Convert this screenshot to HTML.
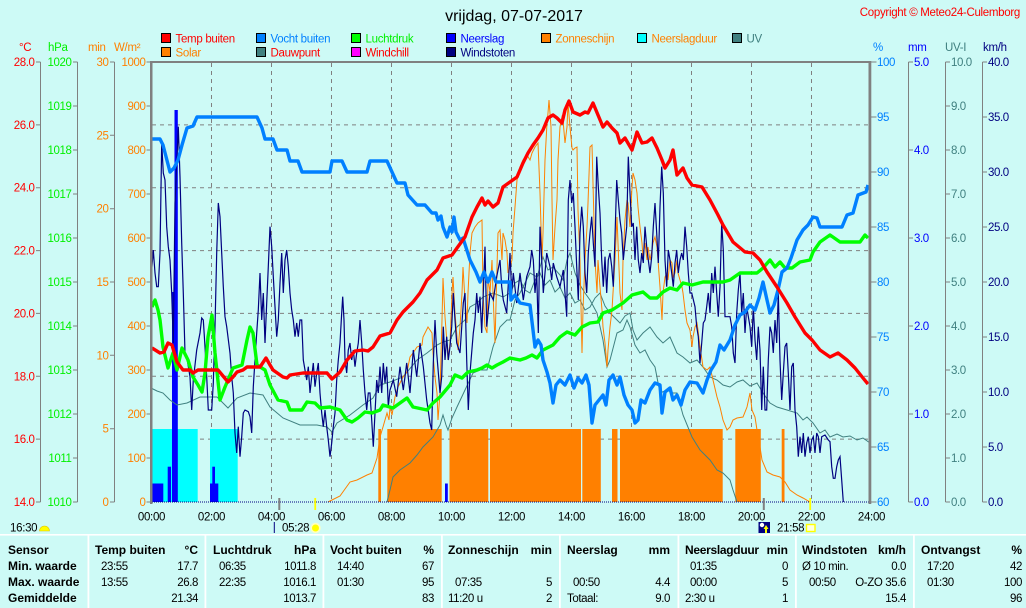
<!DOCTYPE html>
<html><head><meta charset="utf-8"><style>
html,body{margin:0;padding:0;background:#cdfaf6;}
svg{display:block;font-family:"Liberation Sans",sans-serif;}
</style></head><body>
<svg width="1026" height="608" viewBox="0 0 1026 608" xmlns="http://www.w3.org/2000/svg">
<rect width="1026" height="608" fill="#cdfaf6"/>
<!-- title -->
<text x="514" y="21" font-size="16" text-anchor="middle" fill="#000">vrijdag, 07-07-2017</text>
<text x="1020" y="16" font-size="11.5" letter-spacing="-0.3" text-anchor="end" fill="#ff0000">Copyright © Meteo24-Culemborg</text>

<!-- legend -->
<g font-size="11.5" letter-spacing="-0.3">
<rect x="161.5" y="33.5" width="9" height="9" fill="#ff0000" stroke="#000"/><text x="175.5" y="42.5" fill="#ff0000">Temp buiten</text>
<rect x="161.5" y="47.5" width="9" height="9" fill="#ff8000" stroke="#000"/><text x="175.5" y="56.5" fill="#ff8000">Solar</text>
<rect x="256.5" y="33.5" width="9" height="9" fill="#0080ff" stroke="#000"/><text x="270.5" y="42.5" fill="#0080ff">Vocht buiten</text>
<rect x="256.5" y="47.5" width="9" height="9" fill="#408080" stroke="#000"/><text x="270.5" y="56.5" fill="#ff0000">Dauwpunt</text>
<rect x="351.5" y="33.5" width="9" height="9" fill="#00ff00" stroke="#000"/><text x="365.5" y="42.5" fill="#00f000">Luchtdruk</text>
<rect x="351.5" y="47.5" width="9" height="9" fill="#ff00ff" stroke="#000"/><text x="365.5" y="56.5" fill="#ff0000">Windchill</text>
<rect x="446.5" y="33.5" width="9" height="9" fill="#0000ff" stroke="#000"/><text x="460.5" y="42.5" fill="#0000ff">Neerslag</text>
<rect x="446.5" y="47.5" width="9" height="9" fill="#000080" stroke="#000"/><text x="460.5" y="56.5" fill="#000080">Windstoten</text>
<rect x="541.5" y="33.5" width="9" height="9" fill="#ff8000" stroke="#000"/><text x="555.5" y="42.5" fill="#ff8000">Zonneschijn</text>
<rect x="637.5" y="33.5" width="9" height="9" fill="#00ffff" stroke="#000"/><text x="651.5" y="42.5" fill="#ff8000">Neerslagduur</text>
<rect x="732.5" y="33.5" width="9" height="9" fill="#408080" stroke="#000"/><text x="746.5" y="42.5" fill="#408080">UV</text>
</g>

<!-- unit labels -->
<g font-size="11.5" letter-spacing="-0.3">
<text x="19" y="51" fill="#ff0000">°C</text>
<text x="48" y="51" fill="#00f000">hPa</text>
<text x="88" y="51" fill="#ff8000">min</text>
<text x="114" y="51" fill="#ff8000">W/m²</text>
<text x="873" y="51" fill="#0080ff">%</text>
<text x="908" y="51" fill="#0000ff">mm</text>
<text x="945" y="51" fill="#408080">UV-I</text>
<text x="983" y="51" fill="#000080">km/h</text>
</g>

<!-- axis lines -->
<g stroke="#808080" stroke-width="1">
<line x1="40.5" y1="62" x2="40.5" y2="502"/>
<line x1="77.5" y1="62" x2="77.5" y2="502"/>
<line x1="114.5" y1="62" x2="114.5" y2="502"/>
<line x1="908.5" y1="62" x2="908.5" y2="502"/>
<line x1="945.5" y1="62" x2="945.5" y2="502"/>
<line x1="982.5" y1="62" x2="982.5" y2="502"/>
</g>
<!-- ticks -->
<g stroke="#808080" stroke-width="1">
<path d="M36 62H40.5M36 124.9H40.5M36 187.7H40.5M36 250.6H40.5M36 313.4H40.5M36 376.3H40.5M36 439.1H40.5M36 502H40.5"/>
<path d="M73 62H77.5M73 106H77.5M73 150H77.5M73 194H77.5M73 238H77.5M73 282H77.5M73 326H77.5M73 370H77.5M73 414H77.5M73 458H77.5M73 502H77.5"/>
<path d="M110 62H114.5M110 135.3H114.5M110 208.7H114.5M110 282H114.5M110 355.3H114.5M110 428.7H114.5M110 502H114.5"/>
<path d="M146.5 62H151M146.5 106H151M146.5 150H151M146.5 194H151M146.5 238H151M146.5 282H151M146.5 326H151M146.5 370H151M146.5 414H151M146.5 458H151M146.5 502H151"/>
<path d="M870 62H876.5M870 117H876.5M870 172H876.5M870 227H876.5M870 282H876.5M870 337H876.5M870 392H876.5M870 447H876.5M870 502H876.5"/>
<path d="M908.5 62H913M908.5 150H913M908.5 238H913M908.5 326H913M908.5 414H913M908.5 502H913"/>
<path d="M945.5 62H950M945.5 106H950M945.5 150H950M945.5 194H950M945.5 238H950M945.5 282H950M945.5 326H950M945.5 370H950M945.5 414H950M945.5 458H950M945.5 502H950"/>
<path d="M982.5 62H987M982.5 117H987M982.5 172H987M982.5 227H987M982.5 282H987M982.5 337H987M982.5 392H987M982.5 447H987M982.5 502H987"/>
</g>

<!-- tick labels -->
<g font-size="11.5" letter-spacing="-0.4" text-anchor="end" fill="#ff0000">
<text x="34.5" y="66">28.0</text><text x="34.5" y="128.9">26.0</text><text x="34.5" y="191.7">24.0</text><text x="34.5" y="254.6">22.0</text><text x="34.5" y="317.4">20.0</text><text x="34.5" y="380.3">18.0</text><text x="34.5" y="443.1">16.0</text><text x="34.5" y="506">14.0</text>
</g>
<g font-size="11.5" letter-spacing="-0.4" text-anchor="end" fill="#00f000">
<text x="71.5" y="66">1020</text><text x="71.5" y="110">1019</text><text x="71.5" y="154">1018</text><text x="71.5" y="198">1017</text><text x="71.5" y="242">1016</text><text x="71.5" y="286">1015</text><text x="71.5" y="330">1014</text><text x="71.5" y="374">1013</text><text x="71.5" y="418">1012</text><text x="71.5" y="462">1011</text><text x="71.5" y="506">1010</text>
</g>
<g font-size="11.5" letter-spacing="-0.4" text-anchor="end" fill="#ff8000">
<text x="108.5" y="66">30</text><text x="108.5" y="139.3">25</text><text x="108.5" y="212.7">20</text><text x="108.5" y="286">15</text><text x="108.5" y="359.3">10</text><text x="108.5" y="432.7">5</text><text x="108.5" y="506">0</text>
<text x="145.5" y="66">1000</text><text x="145.5" y="110">900</text><text x="145.5" y="154">800</text><text x="145.5" y="198">700</text><text x="145.5" y="242">600</text><text x="145.5" y="286">500</text><text x="145.5" y="330">400</text><text x="145.5" y="374">300</text><text x="145.5" y="418">200</text><text x="145.5" y="462">100</text><text x="145.5" y="506">0</text>
</g>
<g font-size="11.5" letter-spacing="-0.4" fill="#0080ff">
<text x="877" y="66">100</text><text x="877" y="121">95</text><text x="877" y="176">90</text><text x="877" y="231">85</text><text x="877" y="286">80</text><text x="877" y="341">75</text><text x="877" y="396">70</text><text x="877" y="451">65</text><text x="877" y="506">60</text>
</g>
<g font-size="11.5" letter-spacing="-0.4" fill="#0000ff">
<text x="914" y="66">5.0</text><text x="914" y="154">4.0</text><text x="914" y="242">3.0</text><text x="914" y="330">2.0</text><text x="914" y="418">1.0</text><text x="914" y="506">0.0</text>
</g>
<g font-size="11.5" letter-spacing="-0.4" fill="#408080">
<text x="951" y="66">10.0</text><text x="951" y="110">9.0</text><text x="951" y="154">8.0</text><text x="951" y="198">7.0</text><text x="951" y="242">6.0</text><text x="951" y="286">5.0</text><text x="951" y="330">4.0</text><text x="951" y="374">3.0</text><text x="951" y="418">2.0</text><text x="951" y="462">1.0</text><text x="951" y="506">0.0</text>
</g>
<g font-size="11.5" letter-spacing="-0.4" fill="#000080">
<text x="988" y="66">40.0</text><text x="988" y="121">35.0</text><text x="988" y="176">30.0</text><text x="988" y="231">25.0</text><text x="988" y="286">20.0</text><text x="988" y="341">15.0</text><text x="988" y="396">10.0</text><text x="988" y="451">5.0</text><text x="988" y="506">0.0</text>
</g>

<!-- grid -->
<g stroke="#808080" stroke-width="1" stroke-dasharray="4 4">
<path d="M211.5 63V502M271.5 63V502M331.5 63V502M391.5 63V502M451.5 63V502M511.5 63V502M571.5 63V502M631.5 63V502M691.5 63V502M751.5 63V502M811.5 63V502"/>
<path d="M152 124.9H869M152 187.7H869M152 250.6H869M152 313.4H869M152 376.3H869M152 439.1H869"/>
</g>

<!-- neerslagduur -->
<g fill="#00ffff">
<rect x="152" y="429" width="45.7" height="73"/>
<rect x="210" y="429" width="27.7" height="73"/>
</g>
<!-- zonneschijn -->
<g fill="#ff8000">
<rect x="378.3" y="429" width="2.7" height="73"/>
<rect x="387.3" y="429" width="54.4" height="73"/>
<rect x="449.5" y="429" width="38.8" height="73"/>
<rect x="490" y="429" width="91" height="73"/>
<rect x="582.3" y="429" width="18.5" height="73"/>
<rect x="612" y="429" width="5.5" height="73"/>
<rect x="620" y="429" width="102.7" height="73"/>
<rect x="735.3" y="429" width="25.5" height="73"/>
<rect x="781.7" y="429" width="2.8" height="73"/>
</g>
<!-- neerslag -->
<g fill="#0000ff">
<rect x="152" y="483.5" width="11.3" height="18.5"/>
<rect x="167.7" y="466.7" width="3.3" height="35.3"/>
<rect x="172" y="292" width="2.6" height="210"/>
<rect x="174.5" y="110" width="3.3" height="392"/>
<rect x="210" y="483.5" width="8.3" height="18.5"/>
<rect x="212.3" y="466.7" width="2.7" height="35.3"/>
<rect x="445" y="483.5" width="2.8" height="18.5"/>
</g>

<!-- dew point -->
<polyline fill="none" stroke="#408080" stroke-width="1" points="151,388 157,391 163,393 170,400 177,405 187,403 200,397 217,397 228,408 237,398 250,393 263,395 270,407 283,418 300,425 317,425 327,427 332,432 337,423 350,415 363,405 373,398 380,385 390,382 403,377 417,360 427,353 437,345 443,342 450,340 457,327 465,320 470,307 477,303 483,297 493,293 503,297 510,293 515,283 520,280 525,290 530,293 535,280 540,273 545,285 550,280 555,292 560,287 565,298 570,293 575,303 580,300 585,310 590,307 595,298 600,293 605,306 610,313 615,318 620,323 625,316 630,313 633,330 637,340 643,333 650,327 657,337 663,343 670,337 677,353 683,357 690,363 697,360 703,367 710,377 717,380 723,385 730,387 737,382 743,380 750,386 757,383 763,393 770,403 777,407 787,410 797,413 803,420 807,417 813,423 820,433 825,430 830,437 837,434 843,437 850,436 857,440 863,438 870,443"/>
<!-- UV -->
<polyline fill="none" stroke="#408080" stroke-width="1" points="387,502 390,490 393,477 400,470 410,463 417,455 423,447 433,437 440,425 443,415 446,425 448,430 452,418 457,407 465,390 473,373 480,370 487,370 493,347 500,327 507,320 510,320 515,300 520,293 525,283 530,273 537,277 543,257 548,270 553,267 560,275 563,280 567,260 570,253 575,273 580,285 585,293 590,300 597,313 603,340 607,367 610,360 617,333 623,330 627,320 630,327 635,345 640,353 645,350 650,360 655,367 660,393 667,390 673,393 677,393 683,415 692,437 700,450 710,460 717,470 723,473 730,480 733,490 737,502"/>
<!-- solar -->
<polyline fill="none" stroke="#ff8000" stroke-width="1" points="328,502 340,496 350,482 357,480 367,475 372,473 377,458 380,437 383,427 387,413 389,420 390,407 392,415 395,397 398,387 403,377 407,372 410,357 413,353 417,347 422,345 423,337 428,327 432,333 433,353 435,377 437,393 438,420 440,393 442,320 443,278 445,317 447,343 448,360 450,343 452,293 453,277 455,313 457,337 458,350 460,327 462,293 463,267 465,300 467,323 468,293 470,253 472,233 475,227 478,223 482,220 483,293 485,327 487,333 488,277 490,293 492,260 493,293 495,343 497,267 498,233 500,230 502,260 503,233 505,240 507,253 508,273 510,267 512,260 513,233 515,207 517,180 520,167 523,160 527,155 530,160 532,153 535,147 538,143 540,193 542,260 543,233 545,160 547,123 548,113 549,100 551,127 552,200 553,260 555,227 557,200 558,160 560,127 562,117 563,120 565,143 567,127 568,103 570,127 572,148 573,150 575,148 577,147 578,210 580,260 582,353 583,310 585,260 587,227 588,203 590,147 592,145 595,260 597,293 598,260 600,287 602,310 603,327 605,343 607,367 608,350 610,327 612,310 613,293 615,260 617,217 618,243 620,293 622,310 623,260 625,220 627,200 628,203 630,227 632,187 633,173 635,180 637,193 638,207 640,227 642,243 643,257 645,243 647,260 648,247 650,260 652,250 653,243 655,237 657,247 658,260 660,287 662,320 663,293 665,277 667,273 668,280 670,260 672,263 673,277 675,273 677,260 678,273 680,280 682,287 683,293 685,310 687,323 690,330 692,347 693,337 695,327 697,323 698,330 700,347 702,360 703,367 707,370 710,367 713,380 717,397 720,407 723,420 727,430 730,427 733,420 737,418 743,417 747,407 750,393 752,410 755,417 757,430 760,447 762,460 767,472 773,475 780,477 785,482 790,490 797,495 803,498 810,502"/>
<!-- windstoten -->
<polyline fill="none" stroke="#000080" stroke-width="1.2" points="151.7,270 153.3,250 155,273 156.7,286.7 158.3,286.7 160,253 161.7,143 163.3,173 165,180 166.7,226.7 168.3,246.7 170,260 171.7,293 173.3,343 175,203 178.3,126.7 180,176.7 181.7,243 183.3,293 185,353 186.7,356.7 190,376.7 191.7,410 193.3,380 196.7,350 200,333 201.7,318 203.3,320 205,346.7 206.7,376.7 208.3,410 211.7,410 213.3,383 215,326.7 216.7,253 218.3,203 220,216.7 221.7,253 223.3,286.7 225,316.7 226.7,326.7 230,353 231.7,376.7 233.3,393 235,433 236.7,453 238.3,426.7 240,456.7 241.7,436.7 243.3,413 245,410 248.3,411.7 250,416.7 251.7,433 253.3,386.7 256.7,333 258.3,310 260,273 261.7,320 263.3,293 265,343 266.7,303 268.3,266.7 270,226.7 271.7,246.7 273.3,276.7 275,306.7 276.7,336.7 278.3,320 280,283 281.7,253 283.3,293 285,260 286.7,250 288.3,266.7 290,293 291.7,310 293.3,320 295,336.7 296.7,323 298.3,336.7 300,320 301.7,320 303.3,360 306.7,380 308.3,366.7 310,393 311.7,376.7 313.3,363 315,386.7 316.7,373 318.3,363 320,393 321.7,413 323.3,426.7 325,410 326.7,426.7 328.3,440 330,456.7 331.7,443 333.3,426.7 335,413 336.7,380 338.3,360 340,343 341.7,313 342.7,296.7 344,320 345,360 346.7,373 348.3,350 350,343 351.7,360 353.3,350 355,366.7 356.7,353 358.3,343 360,320 361.7,343 363.3,370 365,393 366.7,410 368.3,393 370,393 371.7,420 373.3,446.7 375,413 376.7,380 378.3,393 380,366.7 381.7,393 383.3,363 385,383 386.7,366.7 388.3,406.7 390,390 393.3,380 396.7,396.7 400,366.7 403.3,390 406.7,363 410,393 413.3,350 416.7,376.7 420,343 423.3,366.7 426.7,400 430,423 431.7,430 433.3,363 435,320 436.7,353 440,393 441.7,376.7 443.3,326.7 445,360 446.7,336.7 448.3,360 450,346.7 451.7,326.7 453.3,293 455,320 456.7,343 460,353 463.3,303 465,293 466.7,360 468.3,410 470,373 473.3,333 475,320 476.7,293 478.3,313 480,296.7 481.7,333 483.3,293 485,246.7 486.7,326.7 490,293 493.3,300 496.7,276.7 500,260 501.7,286.7 503.3,300 506.7,313 510,253 511.7,293 513.3,273 516.7,303 520,273 523.3,300 526.7,276.7 530,266.7 531.7,250 533.3,260 535,293 536.7,273 538.3,333 540,226.7 541.7,260 543.3,293 546.7,253 550,266.7 551.7,280 553.3,263 556.7,276.7 560,286.7 563.3,270 565,293 566.7,316.7 568.3,200 570,180 571.7,203 573.3,193 575,226.7 576.7,266.7 578.3,300 580,233 581.7,206.7 583.3,226.7 585,273 586.7,293 588.3,253 590,233 591.7,216.7 593.3,243 595,266.7 596.7,156.7 598.3,186.7 600,213 601.7,260 603.3,286.7 605,256.7 606.7,293 608.3,260 610,253 611.7,266.7 613.3,286.7 615,236.7 616.7,180 618.3,200 620,220 621.7,233 623.3,260 625,243 626.7,226.7 628.3,156.7 630,193 631.7,226.7 633.3,223 635,260 636.7,226.7 638.3,260 640,273 641.7,253 643.3,263 645,226.7 646.7,246.7 648.3,260 650,273 651.7,256.7 653.3,226.7 655,203 656.7,233 658.3,263 660,206.7 661.7,166.7 663.3,193 665,260 666.7,286.7 668.3,250 670,260 671.7,273 673.3,286.7 675,263 676.7,250 678.3,273 680,260 681.7,253 683.3,260 685,226.7 686.7,246.7 688.3,273 690,293 691.7,293 695,306.7 696.7,326.7 698.3,336.7 700,363 701.7,343 703.3,323 705,320 706.7,306.7 708.3,293 710,313 711.7,273 713.3,293 715,266.7 716.7,293 718.3,316.7 720,286.7 721.7,223 723.3,250 725,316.7 730,316.7 731.7,326.7 733.3,353 735,363 736.7,313 738.3,290 740,273 741.7,313 743.3,293 745,333 746.7,306.7 750,326.7 751.7,346.7 753.3,306.7 755,340 756.7,360 758.3,326.7 760,350 761.7,410 763.3,366.7 765,410 766.7,410 768.3,360 770,326.7 771.7,333 773.3,353 775,320 776.7,343 778.3,293 780,360 781.7,400 783.3,373 785,346.7 786.7,343 788.3,373 790,410 791.7,366.7 793.3,363 795,410 796.7,426.7 798.3,456.7 800,436.7 801.7,453 803.3,433 805,456.7 806.7,443 808.3,436.7 810,453 811.7,440 813.3,436.7 815,453 816.7,433 818.3,436.7 820,453 821.7,436.7 825,435 828.3,440 830,441.7 831.7,466.7 833.3,478.3 835,478.3 836.7,466.7 838.3,460 840,456.7 841.7,480 843.3,502"/>
<!-- zero line -->
<line x1="152" y1="502" x2="869" y2="502" stroke="#000080" stroke-width="1" stroke-dasharray="1 1"/>

<!-- pressure -->
<polyline fill="none" stroke="#00ff00" stroke-width="3.4" stroke-linejoin="round" points="152,307 155,300 158,310 160,320 163,347 168,368 173,353 177,370 182,348 188,360 193,377 198,385 202,392 205,373 208,337 212,315 215,353 220,400 225,387 233,368 242,365 247,340 250,327 253,333 257,365 265,370 270,385 278,400 287,402 290,410 302,410 307,402 315,403 320,408 330,407 340,410 347,420 352,422 358,418 365,412 372,413 380,410 383,405 393,408 400,403 407,398 413,407 427,410 433,403 440,397 450,385 455,375 462,378 468,372 477,370 482,368 487,365 492,368 497,365 503,362 510,358 520,360 526,358 532,355 537,358 543,350 553,345 560,337 567,332 575,335 582,327 590,323 598,322 603,313 612,310 623,303 632,295 643,292 650,298 657,298 663,292 670,288 677,290 683,283 692,285 703,282 723,282 730,280 740,273 757,273 763,268 770,260 775,267 780,262 785,268 792,268 800,262 810,260 813,252 820,242 830,235 840,242 860,242 865,235 868,238"/>
<!-- humidity -->
<polyline fill="none" stroke="#0080ff" stroke-width="3.4" stroke-linejoin="round" points="152,139 160,139 163,145 170,172 174,168 178,160 182,145 187,128 193,126 197,117 257,117 262,128 265,139 273,139 277,150 287,150 290,161 298,161 302,172 330,172 332,161 342,161 347,172 367,172 370,161 387,161 392,172 397,183 405,183 408,195 417,205 425,205 432,213 436,213 438,220 441,216 443,227 447,237 450,227 452,232 454,217 456,232 460,240 463,238 470,260 476,272 480,282 484,272 488,282 492,272 496,282 510,282 511,300 515,295 520,303 530,305 533,330 535,347 538,340 541,345 543,360 547,372 550,383 553,403 556,385 560,380 565,385 570,375 574,388 578,378 582,383 586,375 589,385 592,423 595,405 599,400 603,395 606,405 609,380 613,375 617,385 620,377 624,395 628,405 632,410 635,423 638,420 641,400 645,403 650,390 655,383 660,385 662,413 665,392 670,388 673,400 677,395 681,405 685,390 690,382 697,383 703,393 707,380 711,370 716,362 720,345 724,350 730,340 735,325 740,315 745,312 750,305 755,310 759,298 763,282 767,300 770,313 774,305 778,290 782,272 787,268 791,258 797,240 803,230 808,225 813,217 817,218 820,227 842,227 847,215 853,213 858,195 866,192 868,185"/>
<!-- temperature -->
<polyline fill="none" stroke="#ff0000" stroke-width="3.4" stroke-linejoin="round" points="152,348 160,353 164,352 168,343 172,345 177,362 183,370 190,370 193,373 198,370 218,370 228,382 233,377 237,372 243,370 247,367 260,367 266,358 270,365 273,370 283,377 287,378 290,375 303,373 327,373 332,379 340,372 347,360 355,351 363,350 368,351 373,347 380,336 390,333 397,320 403,312 413,302 420,293 427,280 437,270 443,258 452,255 457,248 465,237 472,217 477,207 482,198 485,205 488,201 493,207 498,203 503,187 510,182 517,177 523,163 528,153 533,145 538,138 543,130 548,118 553,115 557,118 562,123 565,110 569,101 573,112 580,115 585,112 588,113 593,103 598,115 603,127 607,122 612,128 617,133 620,143 625,138 632,150 637,132 642,143 647,142 652,138 657,148 662,160 665,168 670,160 673,150 677,175 683,168 687,178 692,185 702,187 710,200 718,215 723,225 733,242 745,252 753,253 760,260 767,272 777,287 787,303 795,317 805,333 812,340 820,350 830,357 838,353 847,360 855,368 863,378 868,384"/>

<!-- plot border -->
<g fill="#808080">
<rect x="150" y="61" width="721" height="2"/>
<rect x="150" y="61" width="2.5" height="443"/>
<rect x="868.5" y="61" width="2.8" height="443"/>
</g>
<!-- markers on x axis -->
<rect x="278.3" y="498" width="2" height="12" fill="#808080"/>
<rect x="314.3" y="498" width="1.8" height="12" fill="#ffff00"/>
<rect x="762.8" y="498" width="2" height="12" fill="#808080"/>
<rect x="809.3" y="498" width="1.8" height="12" fill="#ffff00"/>

<!-- time labels -->
<g font-size="11.5" letter-spacing="-0.3" text-anchor="middle" fill="#000">
<text x="151.5" y="520.5">00:00</text><text x="211.5" y="520.5">02:00</text><text x="271.5" y="520.5">04:00</text><text x="331.5" y="520.5">06:00</text><text x="391.5" y="520.5">08:00</text><text x="451.5" y="520.5">10:00</text><text x="511.5" y="520.5">12:00</text><text x="571.5" y="520.5">14:00</text><text x="631.5" y="520.5">16:00</text><text x="691.5" y="520.5">18:00</text><text x="751.5" y="520.5">20:00</text><text x="811.5" y="520.5">22:00</text><text x="871.5" y="520.5">24:00</text>
</g>
<g font-size="11.5" letter-spacing="-0.3" fill="#000">
<text x="10" y="531.5">16:30</text>
<text x="282" y="531.5">05:28</text>
<text x="777" y="531.5">21:58</text>
</g>
<path d="M39.5,531 A5,5 0 0 1 49.5,531 Z" fill="#ffff00" stroke="#e0c000" stroke-width="0.6"/>
<line x1="274.3" y1="522" x2="274.3" y2="533" stroke="#000080" stroke-width="1"/>
<circle cx="315.5" cy="528" r="5.2" fill="#ffffc0"/>
<circle cx="315.5" cy="528" r="3.5" fill="#ffff00"/>
<rect x="758.5" y="522" width="11.5" height="11" fill="#000080"/>
<circle cx="762" cy="525" r="2.2" fill="#ffffff"/>
<path d="M766,525 L768.5,529 H767 V533 H765 V529 H763.5 Z" fill="#ffff00"/>
<rect x="806.5" y="524.5" width="8.5" height="7" fill="#ffffe0" stroke="#ffff00" stroke-width="1.4"/>

<!-- table -->
<g fill="#ffffff">
<rect x="0" y="534" width="1026" height="1.6"/>
<rect x="87.5" y="535" width="1.8" height="73"/>
<rect x="204.5" y="535" width="1.8" height="73"/>
<rect x="322.5" y="535" width="1.8" height="73"/>
<rect x="441" y="535" width="1.8" height="73"/>
<rect x="559" y="535" width="1.8" height="73"/>
<rect x="677.5" y="535" width="1.8" height="73"/>
<rect x="795" y="535" width="1.8" height="73"/>
<rect x="913" y="535" width="1.8" height="73"/>
</g>
<g font-size="12" font-weight="bold" fill="#000">
<text x="8" y="554">Sensor</text>
<text x="8" y="570">Min. waarde</text>
<text x="8" y="586">Max. waarde</text>
<text x="8" y="602">Gemiddelde</text>
<text x="95" y="554">Temp buiten</text><text x="198" y="554" text-anchor="end">°C</text>
<text x="213" y="554">Luchtdruk</text><text x="316" y="554" text-anchor="end">hPa</text>
<text x="330" y="554">Vocht buiten</text><text x="434" y="554" text-anchor="end">%</text>
<text x="448" y="554">Zonneschijn</text><text x="552" y="554" text-anchor="end">min</text>
<text x="567" y="554">Neerslag</text><text x="670" y="554" text-anchor="end">mm</text>
<text x="685" y="554" letter-spacing="-0.3">Neerslagduur</text><text x="788" y="554" text-anchor="end">min</text>
<text x="802" y="554">Windstoten</text><text x="906" y="554" text-anchor="end">km/h</text>
<text x="921" y="554">Ontvangst</text><text x="1022" y="554" text-anchor="end">%</text>
</g>
<g font-size="11.5" letter-spacing="-0.4" fill="#000">
<text x="101" y="570">23:55</text><text x="198" y="570" text-anchor="end">17.7</text>
<text x="101" y="586">13:55</text><text x="198" y="586" text-anchor="end">26.8</text>
<text x="198" y="602" text-anchor="end">21.34</text>
<text x="219" y="570">06:35</text><text x="316" y="570" text-anchor="end">1011.8</text>
<text x="219" y="586">22:35</text><text x="316" y="586" text-anchor="end">1016.1</text>
<text x="316" y="602" text-anchor="end">1013.7</text>
<text x="337" y="570">14:40</text><text x="434" y="570" text-anchor="end">67</text>
<text x="337" y="586">01:30</text><text x="434" y="586" text-anchor="end">95</text>
<text x="434" y="602" text-anchor="end">83</text>
<text x="455" y="586">07:35</text><text x="552" y="586" text-anchor="end">5</text>
<text x="448" y="602">11:20 u</text><text x="552" y="602" text-anchor="end">2</text>
<text x="573" y="586">00:50</text><text x="670" y="586" text-anchor="end">4.4</text>
<text x="567" y="602">Totaal:</text><text x="670" y="602" text-anchor="end">9.0</text>
<text x="690" y="570">01:35</text><text x="788" y="570" text-anchor="end">0</text>
<text x="690" y="586">00:00</text><text x="788" y="586" text-anchor="end">5</text>
<text x="685" y="602">2:30 u</text><text x="788" y="602" text-anchor="end">1</text>
<text x="802" y="570">Ø 10 min.</text><text x="906" y="570" text-anchor="end">0.0</text>
<text x="809" y="586">00:50</text><text x="906" y="586" text-anchor="end">O-ZO 35.6</text>
<text x="906" y="602" text-anchor="end">15.4</text>
<text x="927" y="570">17:20</text><text x="1022" y="570" text-anchor="end">42</text>
<text x="927" y="586">01:30</text><text x="1022" y="586" text-anchor="end">100</text>
<text x="1022" y="602" text-anchor="end">96</text>
</g>
</svg>
</body></html>
